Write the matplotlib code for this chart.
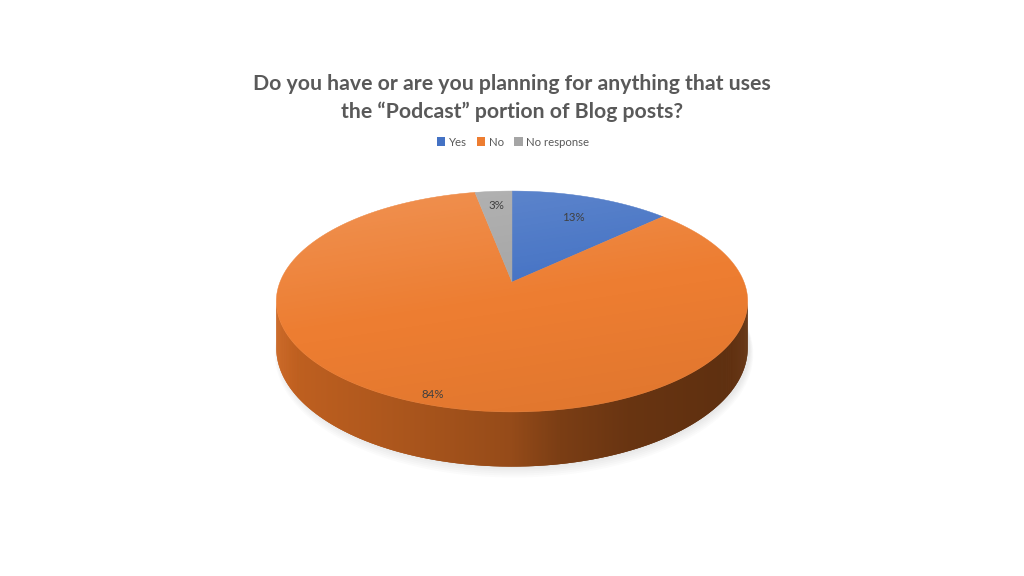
import numpy as np
import matplotlib.pyplot as plt
from matplotlib.patches import Polygon, Patch
from matplotlib.path import Path
from matplotlib.colors import to_rgb

labels = ['Yes', 'No', 'No response']
values = [13, 84, 3]
colors = ['#4472C4', '#ED7D31', '#A5A5A5']
title = 'Do you have or are you planning for anything that uses\nthe \u201cPodcast\u201d portion of Blog posts?'

# pie geometry in pixels (perspective-ish 3D pie)
cx, cy = 512, 282
A, K, D, H = 232, 107, 0.1765, 45
label_r = [0.74, 0.93, 0.82]


def proj(phi, z=0.0):
    X = np.cos(phi)
    Y = np.sin(phi)
    s = 1.0 / (1.0 + D * Y)
    return cx + A * X * s, cy - K * Y * s + H * z * s


def side_mult(x):
    u = (x - 276) / (748 - 276)
    return np.interp(u, [0, 0.05, 0.3, 0.5, 0.6, 0.75, 0.95, 1.0],
                     [0.86, 0.8, 0.71, 0.63, 0.52, 0.44, 0.40, 0.42])


fig = plt.figure(figsize=(10.24, 5.76), dpi=100)
ax = fig.add_axes([0, 0, 1, 1])
ax.set_xlim(0, 1024)
ax.set_ylim(576, 0)
ax.axis('off')

total = float(sum(values))
angles = []
start = np.pi / 2
for v in values:
    end = start - 2 * np.pi * v / total
    angles.append((start, end))
    start = end

# soft shadow under the pie
phi_all = np.linspace(0, 2 * np.pi, 400)
for k in range(6):
    gx, gy = proj(phi_all, 1.0)
    ex = (gx - cx) * (1 + 0.003 * k) + cx + 2
    ey = (gy - cy) * (1 + 0.008 * k) + cy + 1 + k * 0.5
    ax.fill(ex, ey, color='#808080', alpha=0.03, lw=0, zorder=1)

# side wall, visible front part
phi_l = np.pi + np.arcsin(D)
phi_r = 2 * np.pi - np.arcsin(D)
for (a0, a1), c in zip(angles, colors):
    lo, hi = min(a0, a1), max(a0, a1)
    base = np.array(to_rgb(c))
    for shift in (-2 * np.pi, 0, 2 * np.pi):
        l2 = max(lo + shift, phi_l)
        h2 = min(hi + shift, phi_r)
        if h2 <= l2:
            continue
        ph = np.linspace(l2, h2, max(int((h2 - l2) / 0.004), 2))
        step = ph[1] - ph[0]
        for p0 in ph[:-1]:
            p1 = min(p0 + 2.5 * step, h2)
            x0, y0 = proj(p0, 0)
            x1, y1 = proj(p1, 0)
            x2, y2 = proj(p1, 1)
            x3, y3 = proj(p0, 1)
            m = side_mult((x0 + x1) / 2)
            col = np.clip(base * m * np.array([1.0, 0.95, 0.8]), 0, 1)
            ax.add_patch(Polygon([[x0, y0], [x1, y1], [x2, y2], [x3, y3]],
                                 closed=True, fc=col, lw=0, zorder=2))

# top face wedges
for (a0, a1), c in zip(angles, colors):
    ph = np.linspace(a0, a1, 200)
    xs, ys = proj(ph, 0)
    pts = np.column_stack([np.r_[cx, xs], np.r_[cy, ys]])
    ax.add_patch(Polygon(pts, closed=True, fc=c, ec=c, lw=0.3, zorder=3))

# light/dark gradient over top face
tx, ty = proj(phi_all, 0)
top_path = Path(np.column_stack([tx, ty]))
gx = np.linspace(0, 1, 200)
gy = np.linspace(0, 1, 100)
GX, GY = np.meshgrid(gx, gy)
t = 0.25 * GX + 0.75 * GY
img = np.zeros((100, 200, 4))
light = np.clip(1 - t / 0.5, 0, 1)
dark = np.clip((t - 0.5) / 0.5, 0, 1)
img[..., :3] = np.where(light[..., None] > 0, 1.0, 0.0)
img[..., 3] = 0.17 * light + 0.06 * dark
im = ax.imshow(img, extent=[tx.min(), tx.max(), ty.max(), ty.min()],
               aspect='auto', zorder=4, interpolation='bilinear')
im.set_clip_path(top_path, transform=ax.transData)

# data labels
for (a0, a1), v, r in zip(angles, values, label_r):
    mid = (a0 + a1) / 2
    X = r * np.cos(mid)
    Y = r * np.sin(mid)
    s = 1.0 / (1.0 + D * Y)
    ax.text(cx + A * X * s, cy - K * Y * s, '%d%%' % round(100 * v / total),
            fontsize=8.3, color='#404040', ha='center', va='center',
            family='Lato', zorder=5)

ax.text(512, 98, title, fontsize=15.3, fontweight='bold', color='#595959',
        ha='center', va='center', family='Lato', linespacing=1.4)

handles = [Patch(facecolor=c, edgecolor='none') for c in colors]
leg = fig.legend(handles, labels, loc='center', bbox_to_anchor=(513 / 1024, 1 - 142 / 576),
                 ncol=3, frameon=False, handlelength=0.75, handleheight=0.75,
                 handletextpad=0.3, columnspacing=0.9, prop={'family': 'Lato', 'size': 8.2})
for txt in leg.get_texts():
    txt.set_color('#595959')

fig.savefig('out.png', dpi=100, facecolor='white')
